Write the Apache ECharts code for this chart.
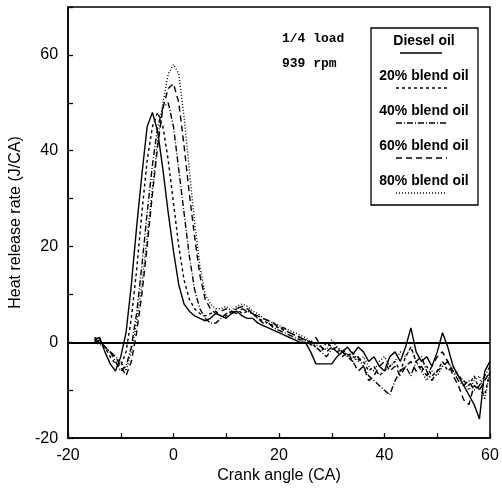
<!DOCTYPE html>
<html>
<head>
<meta charset="utf-8">
<script src="https://cdn.jsdelivr.net/npm/echarts@6/dist/echarts.min.js"></script>
<style>html,body{margin:0;padding:0;background:#fff}#c{width:502px;height:489px}</style>
</head>
<body>
<div id="c"></div>
<script>
var crankAngles = [];
for (var a = -15; a <= 60; a++) crankAngles.push(a);

var seriesNames = ['Diesel oil', '20% blend oil', '40% blend oil', '60% blend oil', '80% blend oil'];

var diesel = [0.5,1,-2,-4.5,-6,-3,2,12,24,35,45,48,44,36,27,19,12,8,6.5,5.5,5,4.5,5,6,5.5,5,6,6.5,5.5,5,5,4,3.5,3,2.5,2,1.5,1,0.5,0,0,-2,-4.5,-4.5,-4.5,-4.5,-3,-2,-1,-2.5,-1,-2,-4,-3,-5,-6,-3,-2,-4,-1,3,-2,-4,-3,-5,-2,2,-1,-5,-7,-9,-11,-13,-16,-6,-4];
var blend20 = [1,0.5,-1,-3,-4.5,-5,-2,5,15,27,38,45,48,45,38,29,20,13,9,7,6,5.5,6,6.5,5.5,5.5,6.5,7,6,6.5,6,5,4.5,4,3.5,3,2.5,2,1.5,1,0.5,0,-1,-2,0,-1,-2,-1.5,-2.5,-3,-3.5,-4,-6,-5,-7,-6,-5,-4,-6,-3,-1,-4,-6,-5,-7,-6,-4,-6,-5,-7,-8,-9,-7,-10,-11,-6];
var blend40 = [0,0.5,-1,-2,-4,-6,-5,-1,6,16,27,37,45,49,50,45,36,27,18,11,7,5,4,4,5,6,6.5,6,7,6.5,6,5,4,4,3,2.5,2,1.5,1,0.5,0.5,-0.5,-1,-2,-3,-1.5,-1,-2,-3,-4,-3,-5,-7,-8,-9,-10,-11,-8,-6,-5,-7,-4,-3,-6,-8,-6,-5,-4,-6,-8,-9,-8,-10,-9,-7,-5];
var blend60 = [0.5,0,-1,-2,-3,-5,-7,-4,2,10,20,31,41,49,53,54,50,41,31,22,14,9,7,6,6.5,7,6,7,7.5,7,6,5.5,5,4.5,4,3,3,2,1.5,1,0.5,0,1,-1,-2,-1,-2,-3,-2,-4,-6,-5,-8,-7,-5,-4,-6,-5,-7,-5,-4,-6,-5,-7,-5,-3,-2,-4,-7,-9,-12,-13,-9,-10,-8,-6];
var blend80 = [0,-0.5,-1,-2,-3,-4,-6,-2,4,12,22,32,42,50,56,58,56,47,36,25,16,10,8,7,7,7.5,6.5,7.5,8,7.5,6.5,6,5,4.5,4,3.5,3,2.5,2,1.5,1,0,-0.5,-1,-1.5,0.5,-1,-2,-3,-2,-4,-3,-5,-6,-4,-3,-5,-4,-2,-3,-1,-4,-6,-8,-6,-7,-5,-4,-6,-7,-8,-10,-8,-7,-12,-6];

var xTickLabels = ['-20', '0', '20', '40', '60'];
var yTickLabels = ['-20', '0', '20', '40', '60'];

var allValues = [diesel, blend20, blend40, blend60, blend80];
var dashTypes = ['solid', [3, 3], [6, 2, 1, 2], [6, 4], [1, 2]];

function pairs(vals) {
  return crankAngles.map(function (x, i) { return [x, vals[i]]; });
}

var series = allValues.map(function (vals, k) {
  var s = {
    name: seriesNames[k],
    type: 'line',
    data: pairs(vals),
    showSymbol: false,
    symbol: 'none',
    lineStyle: { color: '#000', width: 1.4, type: dashTypes[k] },
    z: 3
  };
  if (k === 0) {
    s.markLine = {
      silent: true,
      symbol: 'none',
      label: { show: false },
      lineStyle: { color: '#000', width: 1.8, type: 'solid' },
      data: [{ yAxis: 0 }]
    };
  }
  return s;
});

var fontAx = 'Liberation Sans, Arial, sans-serif';
var fontMono = 'Liberation Mono, Courier New, monospace';

var legendLeft = 371, legendTop = 28, legendW = 107, legendH = 177;
var graphics = [
  { type: 'rect', shape: { x: legendLeft, y: legendTop, width: legendW, height: legendH },
    style: { fill: '#fff', stroke: '#000', lineWidth: 1.3 }, z: 10 },
  { type: 'text', left: 282, top: 32, style: { text: '1/4 load', font: 'bold 13px ' + fontMono, fill: '#000' }, z: 10 },
  { type: 'text', left: 282, top: 57, style: { text: '939 rpm', font: 'bold 13px ' + fontMono, fill: '#000' }, z: 10 }
];
var legendTextY = [41, 76, 111, 146, 181];
var sampleX = [[400, 442], [396, 447], [396, 447], [396, 447], [396, 447]];
seriesNames.forEach(function (n, k) {
  graphics.push({ type: 'text', x: 424, y: legendTextY[k],
    style: { text: n, font: 'bold 14px ' + fontAx, fill: '#000', textAlign: 'center', textVerticalAlign: 'middle' }, z: 11 });
  graphics.push({ type: 'line', shape: { x1: sampleX[k][0], y1: legendTextY[k] + 12, x2: sampleX[k][1], y2: legendTextY[k] + 12 },
    style: { stroke: '#000', lineWidth: 1.4, lineDash: dashTypes[k] === 'solid' ? null : dashTypes[k] }, z: 11 });
});

var chart = echarts.init(document.getElementById('c'), null, { renderer: 'canvas' });
chart.setOption({
  animation: false,
  backgroundColor: '#fff',
  grid: { left: 63, right: 12, top: 7, bottom: 45, show: true, borderColor: '#000', borderWidth: 1.5, backgroundColor: 'transparent' },
  xAxis: {
    type: 'value', min: -20, max: 60, interval: 10,
    name: 'Crank angle (CA)', nameLocation: 'middle', nameGap: 28,
    nameTextStyle: { fontFamily: fontAx, fontSize: 16, color: '#000' },
    axisLine: { show: true, onZero: false, lineStyle: { color: '#000', width: 1.5 } },
    axisTick: { show: true, inside: true, length: 5, lineStyle: { color: '#000', width: 1.3 } },
    axisLabel: { fontFamily: fontAx, fontSize: 16, color: '#000', margin: 9,
      formatter: function (v) { var s = String(v); return xTickLabels.indexOf(s) >= 0 ? s : ''; } },
    splitLine: { show: false }
  },
  yAxis: {
    type: 'value', min: -20, max: 70, interval: 10,
    name: 'Heat release rate (J/CA)', nameLocation: 'middle', nameGap: 35,
    nameTextStyle: { fontFamily: fontAx, fontSize: 16, color: '#000' },
    axisLine: { show: true, onZero: false, lineStyle: { color: '#000', width: 1.5 } },
    axisTick: { show: true, inside: true, length: 5, lineStyle: { color: '#000', width: 1.3 } },
    axisLabel: { fontFamily: fontAx, fontSize: 16, color: '#000', margin: 10,
      formatter: function (v) { var s = String(v); return yTickLabels.indexOf(s) >= 0 ? s : ''; } },
    splitLine: { show: false }
  },
  series: series,
  graphic: graphics
});
</script>
</body>
</html>
